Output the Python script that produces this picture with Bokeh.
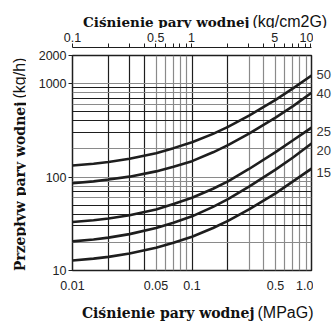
import math
from bokeh.plotting import figure
from bokeh.layouts import column, row
from bokeh.models import (LogAxis, FixedTicker, Grid, Range1d, LogScale,
                          Title, CustomJSTickFormatter)
from bokeh.core.properties import value
from bokeh.embed import file_html
from bokeh.resources import INLINE

# ---- data ----
pressure_mpa = [0.01, 0.015, 0.02, 0.03, 0.05, 0.07, 0.1, 0.15, 0.2, 0.3, 0.5, 0.7, 1.0]
flow_50 = [133, 139, 145, 157, 180, 204, 236, 290, 345, 455, 670, 890, 1220]
flow_40 = [86, 90, 94, 101, 115, 129, 148, 184, 220, 292, 432, 575, 800]
flow_25 = [33, 34.5, 36, 39, 45, 51.5, 60, 75, 90, 122, 185, 248, 338]
flow_20 = [20.5, 21.5, 22.5, 24.5, 28.5, 32.5, 38, 48, 58, 79, 120, 162, 228]
flow_15 = [12.8, 13.4, 14, 15.2, 17.5, 19.8, 23, 28.5, 34, 45, 67, 90, 123]
pipe_labels = ["50 mm", "40 mm", "25 mm", "20 mm", "15 mm"]

x_ticks = [0.01, 0.05, 0.1, 0.5, 1.0]
x_tick_labels = ["0.01", "0.05", "0.1", "0.5", "1.0"]
top_ticks = [0.1, 0.5, 1, 5, 10]
top_tick_labels = ["0.1", "0.5", "1", "5", "10"]
top_minor = [0.2, 0.3, 0.4, 0.6, 0.7, 0.8, 0.9, 2, 3, 4, 6, 7, 8, 9]
y_ticks = [10, 100, 1000, 2000]
y_tick_labels = ["10", "100", "1000", "2000"]

x_grid_dark = [0.02, 0.03, 0.04, 0.1, 0.2]
x_grid_light = [0.05, 0.06, 0.07, 0.08, 0.09, 0.3, 0.4, 0.5, 0.6, 0.7, 0.8, 0.9]
y_grid_dark = [30, 40, 50, 70, 300, 400, 500, 700, 900]
y_grid_light = [20, 60, 80, 90, 100, 200, 600, 800, 1000]

title_top = ["Ciśnienie pary wodnej", "(kg/cm2G)"]
title_bottom = ["Ciśnienie pary wodnej", "(MPaG)"]
title_left = ["Przepływ pary wodnej", "(kg/h)"]

SANS = "Liberation Sans"
SERIF = "DejaVu Serif"
DARK = "#1e1e1e"
GRAY = "#8a8a8a"
TXT = "#111"

TOTAL_W, TOTAL_H = 334, 325
TOP_H, BOT_H = 28, 27
LEFT_W, RIGHT_W = 26, 21
MID_H = TOTAL_H - TOP_H - BOT_H
MAIN_W = TOTAL_W - LEFT_W - RIGHT_W


def fmt(vals, labs):
    return CustomJSTickFormatter(args=dict(vals=vals, labs=labs), code="""
        let best = 0, d = Infinity;
        for (let i = 0; i < vals.length; i++) {
            const e = Math.abs(Math.log(vals[i]) - Math.log(tick));
            if (e < d) { d = e; best = i; }
        }
        return labs[best];
    """)


def blank(w, h, **kw):
    f = figure(width=w, height=h, output_backend="svg", toolbar_location=None,
               title=None, x_axis_location=None, y_axis_location=None, **kw)
    f.grid.visible = False
    f.outline_line_color = None
    f.background_fill_color = "white"
    f.border_fill_color = "white"
    return f


# ---- main chart ----
y_range = Range1d(10, 2000)
p = figure(width=MAIN_W, height=MID_H, x_axis_type="log", y_axis_type="log",
           x_range=Range1d(0.01, 1.0), y_range=y_range,
           output_backend="svg", toolbar_location=None, title=None,
           min_border_left=72 - LEFT_W, min_border_right=2,
           min_border_top=55 - TOP_H, min_border_bottom=TOP_H + MID_H - 270)
p.background_fill_color = "white"
p.border_fill_color = "white"
p.outline_line_color = DARK
p.outline_line_width = 1.5
p.xgrid.visible = False
p.ygrid.visible = False

for ticks, col in ((x_grid_light, GRAY), (x_grid_dark, DARK)):
    p.add_layout(Grid(dimension=0, ticker=FixedTicker(ticks=ticks),
                      grid_line_color=col, grid_line_width=1.2))
for ticks, col in ((y_grid_light, GRAY), (y_grid_dark, DARK)):
    p.add_layout(Grid(dimension=1, ticker=FixedTicker(ticks=ticks),
                      grid_line_color=col, grid_line_width=1.2))

xa = p.xaxis[0]
xa.ticker = FixedTicker(ticks=x_ticks, minor_ticks=[])
xa.formatter = fmt(x_ticks, x_tick_labels)
xa.axis_line_color = None
xa.major_tick_out = 0
xa.major_tick_in = 0
xa.minor_tick_line_color = None
xa.major_label_standoff = 10
xa.major_label_text_font = SANS
xa.major_label_text_font_size = "12.5px"
xa.major_label_text_color = "#222"

ya = p.yaxis[0]
ya.ticker = FixedTicker(ticks=y_ticks, minor_ticks=[])
ya.formatter = fmt(y_ticks, y_tick_labels)
ya.axis_line_color = None
ya.major_tick_out = 4
ya.major_tick_in = 0
ya.major_tick_line_color = DARK
ya.minor_tick_line_color = None
ya.major_label_standoff = 2
ya.major_label_text_font = SANS
ya.major_label_text_font_size = "12.5px"
ya.major_label_text_color = "#222"

p.extra_x_ranges = {"kg": Range1d(0.0999, 10.197)}
p.extra_x_scales = {"kg": LogScale()}
p.add_layout(Title(text=" ", text_font_size="6px", standoff=0, offset=0), "above")
top = LogAxis(x_range_name="kg",
              ticker=FixedTicker(ticks=top_ticks, minor_ticks=top_minor),
              formatter=fmt(top_ticks, top_tick_labels))
top.axis_line_color = DARK
top.axis_line_width = 1.2
top.major_tick_out = 4
top.major_tick_in = 0
top.minor_tick_out = 4
top.minor_tick_in = 0
top.major_tick_line_color = DARK
top.minor_tick_line_color = DARK
top.major_label_standoff = 2
top.major_label_text_font = SANS
top.major_label_text_font_size = "12.5px"
top.major_label_text_color = "#222"
p.add_layout(top, "above")

series = [flow_50, flow_40, flow_25, flow_20, flow_15]
for flows in series:
    p.line(pressure_mpa, flows, line_color=DARK, line_width=2.6)

# ---- right strip: curve labels, sharing the chart's y scale ----
rf = figure(width=RIGHT_W, height=MID_H, y_axis_type="log", y_range=y_range,
            x_range=Range1d(0, 1), output_backend="svg", toolbar_location=None,
            title=None, x_axis_location=None, y_axis_location=None,
            min_border_left=0, min_border_right=0,
            min_border_top=55 - TOP_H, min_border_bottom=TOP_H + MID_H - 270)
rf.grid.visible = False
rf.outline_line_color = None
rf.border_fill_color = "white"
label_dy = [1, -1, -4, -7, -4]
ends = [s[-1] for s in series]
rf.text(x=[0] * len(ends), y=ends, text=pipe_labels, x_offset=3,
        y_offset=[-d for d in label_dy], text_font=value(SANS),
        text_font_size="13px", text_color="#333", text_baseline="middle",
        text_align="left")

# ---- title strips: serif part ends where the sans part begins ----
tf = blank(TOTAL_W, TOP_H, x_range=Range1d(0, TOTAL_W), y_range=Range1d(0, TOP_H),
           min_border=0)
tf.text(x=[249], y=[7], text=[title_top[0]], text_font=value(SERIF),
        text_font_style="bold", text_font_size="13.5px", text_color=TXT,
        text_baseline="alphabetic", text_align="right")
tf.text(x=[252], y=[7], text=[title_top[1]], text_font=value(SANS),
        text_font_size="16px", text_color=TXT, text_baseline="alphabetic",
        text_align="left")

bf = blank(TOTAL_W, BOT_H, x_range=Range1d(0, TOTAL_W), y_range=Range1d(0, BOT_H),
           min_border=0)
bf.text(x=[254], y=[13], text=[title_bottom[0]], text_font=value(SERIF),
        text_font_style="bold", text_font_size="14px", text_color=TXT,
        text_baseline="alphabetic", text_align="right")
bf.text(x=[257], y=[13], text=[title_bottom[1]], text_font=value(SANS),
        text_font_size="16px", text_color=TXT, text_baseline="alphabetic",
        text_align="left")

lf = blank(LEFT_W, MID_H, x_range=Range1d(0, LEFT_W), y_range=Range1d(0, MID_H),
           min_border=0)
lf.text(x=[19], y=[TOP_H + MID_H - 86], text=[title_left[0]], text_font=value(SERIF),
        text_font_style="bold", text_font_size="14px", text_color=TXT,
        text_baseline="alphabetic", text_align="right", angle=math.pi / 2)
lf.text(x=[19], y=[TOP_H + MID_H - 82], text=[title_left[1]], text_font=value(SANS),
        text_font_size="16px", text_color=TXT, text_baseline="alphabetic",
        text_align="left", angle=math.pi / 2)

layout = column(tf, row(lf, p, rf, spacing=0), bf, spacing=0)
open("out.html", "w").write(file_html(layout, INLINE))
